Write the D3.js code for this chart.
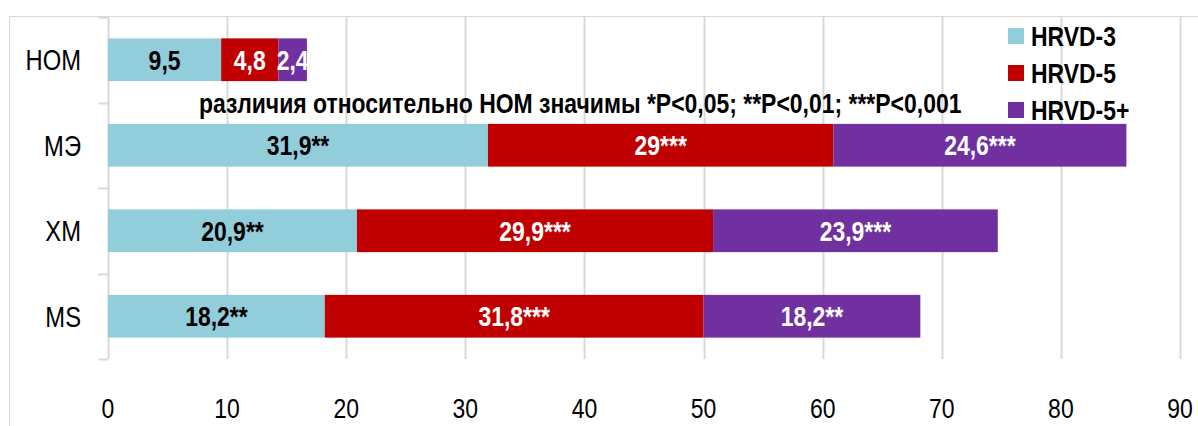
<!DOCTYPE html>
<meta charset="utf-8">
<script src="https://d3js.org/d3.v7.min.js"></script>
<style>
  body { margin: 0; background: #fff; }
  text { font-family: "Liberation Sans Narrow", "Arial Narrow", "Liberation Sans", Arial, sans-serif; }
</style>
<div id="my_dataviz"></div>
<script>

// data
var categories = ["НОМ", "МЭ", "ХМ", "MS"];
var series = ["HRVD-3", "HRVD-5", "HRVD-5+"];
var colors = ["#92cddc", "#c00000", "#7030a0"];
var labelColors = ["#000", "#fff", "#fff"];

var hrvd3 = [9.5, 31.9, 20.9, 18.2];
var hrvd5 = [4.8, 29, 29.9, 31.8];
var hrvd5plus = [2.4, 24.6, 23.9, 18.2];

var labels3 = ["9,5", "31,9**", "20,9**", "18,2**"];
var labels5 = ["4,8", "29***", "29,9***", "31,8***"];
var labels5plus = ["2,4", "24,6***", "23,9***", "18,2**"];

var xTicks = [0, 10, 20, 30, 40, 50, 60, 70, 80, 90];
var note = "различия относительно НОМ значимы *P<0,05; **P<0,01; ***P<0,001";

var W = 1198, H = 426;
// the original uses a narrow face; squeeze the regular one horizontally
var NARROW = 0.82;
function at(px, py) { return "translate(" + px + "," + py + ") scale(" + NARROW + ",1)" }

var svg = d3.select("#my_dataviz")
  .append("svg")
    .attr("width", W)
    .attr("height", H)

// outer chart border
svg.append("rect")
    .attr("x", 9.5).attr("y", 16.5)
    .attr("width", W + 20).attr("height", H)
    .attr("fill", "none")
    .attr("stroke", "#d9d9d9")

var x = d3.scaleLinear().domain([0, 90]).range([108, 1180])
var y = d3.scaleBand().domain(categories).range([17, 359])
    .paddingInner(0.5).paddingOuter(0.25)

// vertical gridlines
svg.append("g")
  .selectAll("line")
  .data(xTicks)
  .enter()
  .append("line")
    .attr("x1", function(d) { return Math.round(x(d)) + 0.5 })
    .attr("x2", function(d) { return Math.round(x(d)) + 0.5 })
    .attr("y1", 17).attr("y2", 359)
    .attr("stroke", "#d9d9d9")
    .attr("stroke-width", 2)

// y axis ticks between categories
var bounds = d3.range(categories.length + 1).map(function(i) { return 17 + i * y.step() })
svg.append("g")
  .selectAll("line")
  .data(bounds)
  .enter()
  .append("line")
    .attr("x1", 98).attr("x2", 108)
    .attr("y1", function(d) { return Math.round(d) + 0.5 })
    .attr("y2", function(d) { return Math.round(d) + 0.5 })
    .attr("stroke", "#d9d9d9")
    .attr("stroke-width", 2)

// stack the series
var table = categories.map(function(c, i) {
  return { cat: c, s0: hrvd3[i], s1: hrvd5[i], s2: hrvd5plus[i] }
})
var allLabels = [labels3, labels5, labels5plus];
var stack = d3.stack().keys(["s0", "s1", "s2"])(table)

var layer = svg.append("g")
  .selectAll("g")
  .data(stack)
  .enter()
  .append("g")
    .attr("fill", function(d, i) { return colors[i] })

layer.selectAll("rect")
  .data(function(d) { return d })
  .enter()
  .append("rect")
    .attr("x", function(d) { return x(d[0]) })
    .attr("y", function(d) { return y(d.data.cat) })
    .attr("width", function(d) { return x(d[1]) - x(d[0]) })
    .attr("height", y.bandwidth())

// value labels in the middle of each segment
stack.forEach(function(s, k) {
  svg.append("g")
    .selectAll("text")
    .data(s)
    .enter()
    .append("text")
      .attr("transform", function(d) { return at(x((d[0] + d[1]) / 2), y(d.data.cat) + y.bandwidth() / 2) })
      .attr("dy", "0.36em")
      .attr("text-anchor", "middle")
      .attr("fill", labelColors[k])
      .style("font-size", "28px")
      .style("font-weight", "bold")
      .text(function(d, i) { return allLabels[k][i] })
})

// category labels
svg.append("g")
  .selectAll("text")
  .data(categories)
  .enter()
  .append("text")
    .attr("transform", function(d) { return at(81, y(d) + y.bandwidth() / 2) })
    .attr("dy", "0.36em")
    .attr("text-anchor", "end")
    .style("font-size", "29px")
    .text(function(d) { return d })

// x tick labels
svg.append("g")
  .selectAll("text")
  .data(xTicks)
  .enter()
  .append("text")
    .attr("transform", function(d) { return at(x(d), 418) })
    .attr("text-anchor", "middle")
    .style("font-size", "28px")
    .text(function(d) { return d })

// significance note
svg.append("text")
    .attr("transform", at(199, 113))
    .style("font-size", "28px")
    .style("font-weight", "bold")
    .text(note)

// legend
var legend = svg.append("g")
  .selectAll("g")
  .data(series)
  .enter()
  .append("g")
    .attr("transform", function(d, i) { return "translate(1008," + (36 + i * 37) + ")" })
legend.append("rect")
    .attr("x", 0).attr("y", -8)
    .attr("width", 16).attr("height", 16)
    .attr("fill", function(d, i) { return colors[i] })
legend.append("text")
    .attr("transform", at(23, 0))
    .attr("dy", "0.36em")
    .style("font-size", "28px")
    .style("font-weight", "bold")
    .text(function(d) { return d })

</script>
